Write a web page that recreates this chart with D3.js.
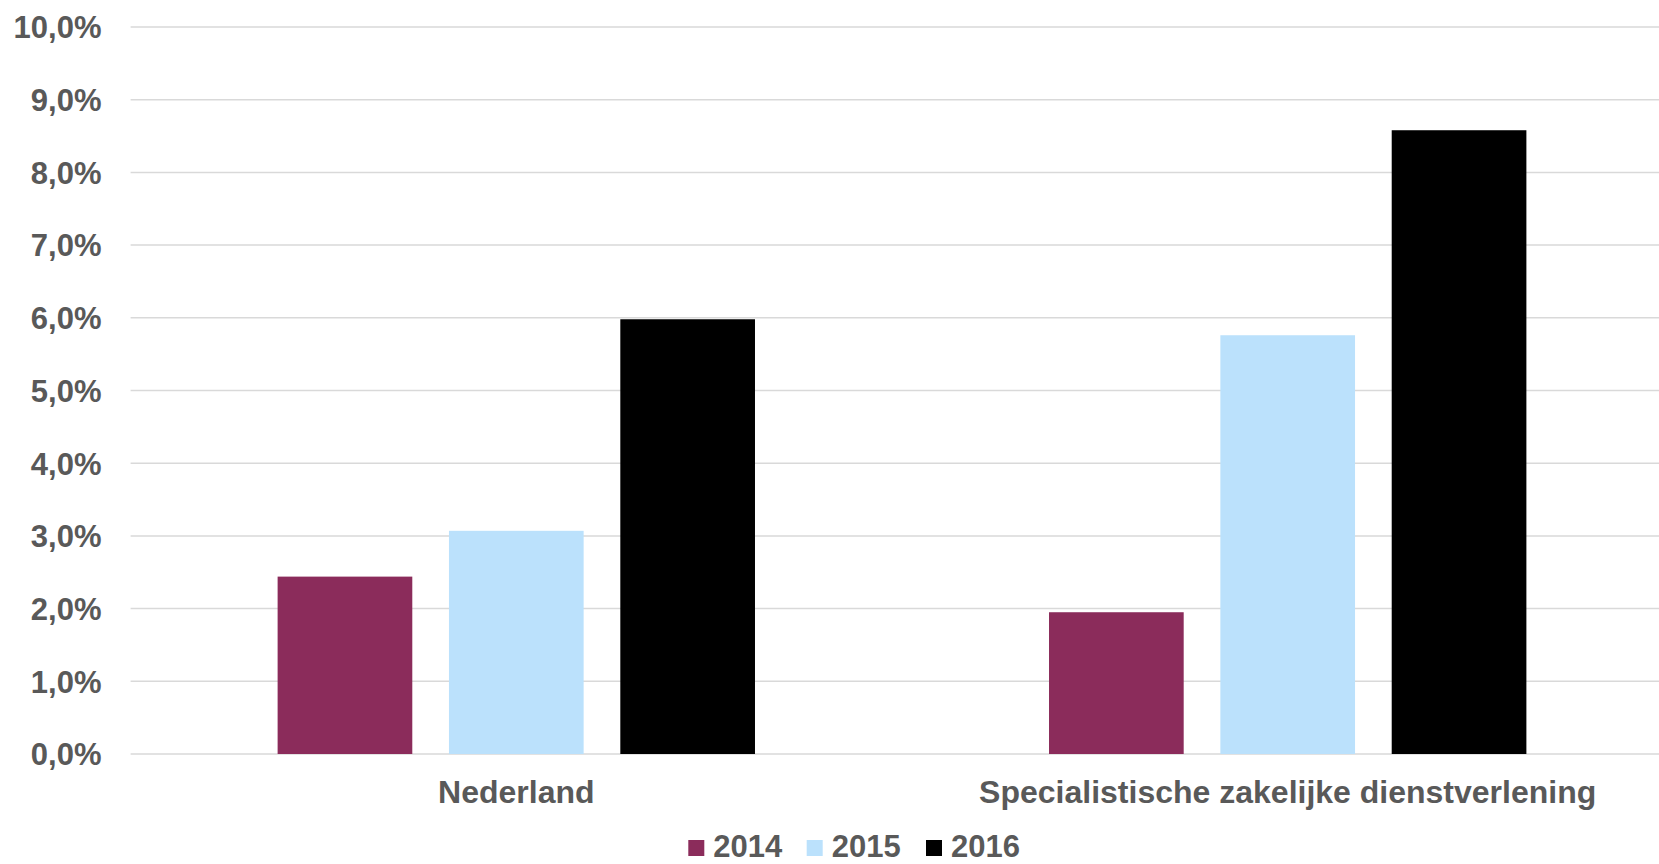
<!DOCTYPE html>
<html>
<head>
<meta charset="utf-8">
<script src="https://cdn.jsdelivr.net/npm/d3@7"></script>
<style>
  html, body { margin: 0; padding: 0; background: #fff; }
  svg { display: block; }
  text { font-family: "Liberation Sans", Arial, sans-serif; font-weight: bold; fill: #595959; }
</style>
</head>
<body>
<svg id="chart" width="1659" height="864"></svg>
<script>
const categories = ["Nederland", "Specialistische zakelijke dienstverlening"];
const years = ["2014", "2015", "2016"];
const values2014 = [2.44, 1.95];
const values2015 = [3.07, 5.76];
const values2016 = [5.98, 8.58];
const yTicks = [0, 1, 2, 3, 4, 5, 6, 7, 8, 9, 10];
const colors = ["#8B2C5B", "#BBE1FC", "#000000"];

const seriesValues = [values2014, values2015, values2016];
const data = categories.map((c, i) => ({
  category: c,
  values: years.map((y, j) => ({ year: y, value: seriesValues[j][i] }))
}));

const svg = d3.select("#chart");
const plotLeft = 130.6, plotRight = 1673.4, plotTop = 27, plotBottom = 754;

const x0 = d3.scaleBand().domain(categories).range([plotLeft, plotRight]).paddingInner(0).paddingOuter(0);
const x1 = d3.scaleBand().domain(years).range([0, x0.bandwidth()]).paddingInner(0.214).paddingOuter(0.858);
const y = d3.scaleLinear().domain([0, 10]).range([plotBottom, plotTop]);
const color = d3.scaleOrdinal().domain(years).range(colors);
const fmt = d => d.toFixed(1).replace(".", ",") + "%";

// gridlines
svg.append("g")
  .selectAll("line")
  .data(yTicks)
  .join("line")
  .attr("x1", plotLeft).attr("x2", 1659)
  .attr("y1", d => y(d)).attr("y2", d => y(d))
  .attr("stroke", "#D9D9D9").attr("stroke-width", 1.5);

// y axis labels
const yAxis = d3.axisLeft(y).tickValues(yTicks).tickFormat(fmt).tickSize(0).tickPadding(0);
const gy = svg.append("g").attr("transform", "translate(101.5,0)").call(yAxis);
gy.select(".domain").remove();
gy.selectAll("text").attr("font-size", 31).attr("font-family", null).attr("fill", "#595959").attr("dy", "0.35em");

// bars
const groups = svg.append("g").selectAll("g")
  .data(data).join("g")
  .attr("transform", d => `translate(${x0(d.category)},0)`);
groups.selectAll("rect")
  .data(d => d.values).join("rect")
  .attr("x", d => x1(d.year))
  .attr("width", x1.bandwidth())
  .attr("y", d => y(d.value))
  .attr("height", d => y(0) - y(d.value))
  .attr("fill", d => color(d.year));

// category labels
const xAxis = d3.axisBottom(x0).tickSize(0).tickPadding(0);
const gx = svg.append("g").attr("transform", `translate(0,${plotBottom})`).call(xAxis);
gx.select(".domain").remove();
gx.selectAll("text").attr("font-size", 32).attr("font-family", null).attr("fill", "#595959")
  .attr("dy", null).attr("y", 49);

// legend
const legendStarts = [688.3, 806.7, 926];
const legend = svg.append("g").selectAll("g")
  .data(years).join("g")
  .attr("transform", (d, i) => `translate(${legendStarts[i]},0)`);
legend.append("rect").attr("x", 0).attr("y", 840).attr("width", 16).attr("height", 16)
  .attr("fill", d => color(d));
legend.append("text").attr("x", 25).attr("y", 857).attr("font-size", 31).text(d => d);
</script>
</body>
</html>
